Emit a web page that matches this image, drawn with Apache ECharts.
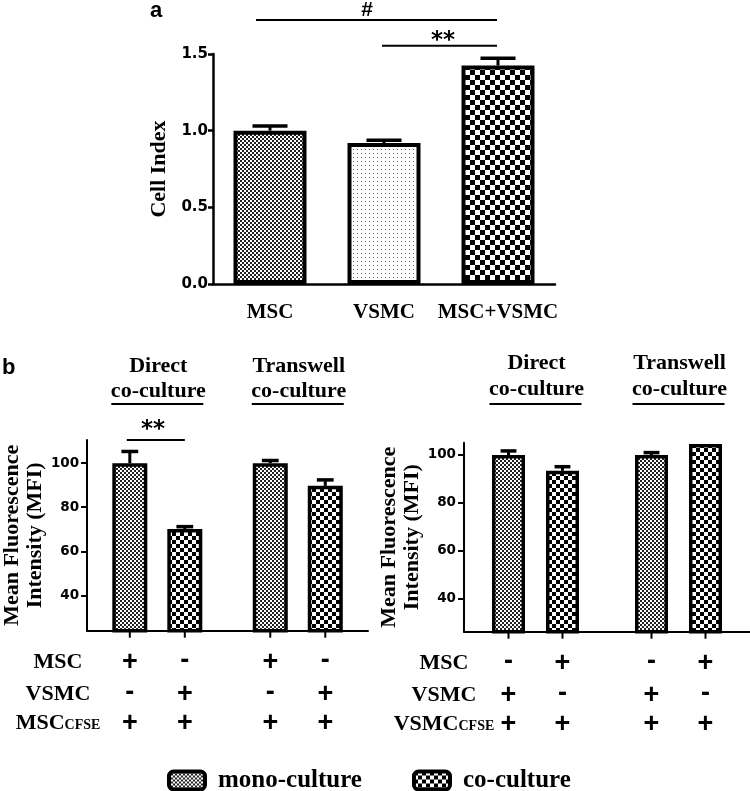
<!DOCTYPE html>
<html><head><meta charset="utf-8">
<script src="https://cdn.jsdelivr.net/npm/echarts@6/dist/echarts.min.js"></script>
<style>html,body{margin:0;padding:0;background:#fff}#c{width:750px;height:791px}</style>
</head><body><div id="c"></div>
<script>
// ---------- Panel a data ----------
const catsA = ['MSC', 'VSMC', 'MSC+VSMC'];
const valsA = [1.00, 0.92, 1.425];
const errA = [0.03, 0.018, 0.048];

// ---------- Panel b data ----------
const groupsB = ['Direct co-culture', 'Transwell co-culture'];
const headerLine1 = ['Direct', 'Transwell'];
const headerLine2 = ['co-culture', 'co-culture'];
const monoLeft = [100, 100];
const monoLeftErr = [5.3, 1.2];
const coLeft = [70.1, 89.7];
const coLeftErr = [1.1, 2.7];
const monoRight = [100, 100];
const monoRightErr = [1.7, 1.0];
const coRight = [93.4, 104.6];
const coRightErr = [1.7, 0];
const ticksB = [40, 60, 80, 100];

// sign table (bar order: Direct mono, Direct co, Transwell mono, Transwell co)
const rowLabelsLeft = [['MSC', ''], ['VSMC', ''], ['MSC', 'CFSE']];
const signsLeft = [['+', '-', '+', '-'], ['-', '+', '-', '+'], ['+', '+', '+', '+']];
const rowLabelsRight = [['MSC', ''], ['VSMC', ''], ['VSMC', 'CFSE']];
const signsRight = [['-', '+', '-', '+'], ['+', '-', '+', '-'], ['+', '+', '+', '+']];
const legendNames = ['mono-culture', 'co-culture'];

// ---------- styles ----------
const SERIF = '"Liberation Serif", "Times New Roman", serif';
const SANS = '"Liberation Sans", Arial, sans-serif';
const DJ = '"DejaVu Sans", sans-serif';
const ROW_OFF = [32, 64, 92.5];

function pat(size, draw) {
  const c = document.createElement('canvas');
  c.width = c.height = size;
  const g = c.getContext('2d');
  g.fillStyle = '#fff'; g.fillRect(0, 0, size, size);
  draw(g, size);
  return { image: c, repeat: 'repeat' };
}
function checker(cell, col) {
  return pat(cell * 2, (g) => { g.fillStyle = col; g.fillRect(0, 0, cell, cell); g.fillRect(cell, cell, cell, cell); });
}
const fineChecker = checker(2, '#222');
const coarseA = checker(5, '#000');
const coarseB = checker(4, '#000');
const dots = pat(4, (g) => { g.fillStyle = '#6a6a6a'; g.fillRect(1, 1, 1, 1); });
const patsA = [fineChecker, dots, coarseA];

const BW_A = 73, BW_L = 35, BW_R = 33, GAP_L = 20, GAP_R = 21;
const BORDER = 3.5;

function errSeries(xi, vals, errs, offset, bw, signs, slot) {
  return {
    type: 'custom', xAxisIndex: xi, yAxisIndex: xi, z: 5, silent: true, clip: false,
    data: vals.map((v, i) => [i, v, errs[i]]),
    renderItem(params, api) {
      const i = api.value(0), v = api.value(1), e = api.value(2);
      const base = api.coord([i, v]);
      const x = base[0] + offset;
      const ch = [];
      if (e > 0) {
        const top = api.coord([i, v + e])[1];
        const cap = bw * 0.48;
        ch.push({ type: 'line', shape: { x1: x, y1: base[1], x2: x, y2: top }, style: { stroke: '#000', lineWidth: 3 } });
        ch.push({ type: 'line', shape: { x1: x - cap / 2, y1: top, x2: x + cap / 2, y2: top }, style: { stroke: '#000', lineWidth: 3.5 } });
      }
      if (signs) {
        const axisY = params.coordSys.y + params.coordSys.height;
        ch.push({ type: 'line', shape: { x1: x, y1: axisY, x2: x, y2: axisY + 7 }, style: { stroke: '#000', lineWidth: 2 } });
        signs.forEach((row, r) => {
          const s = row[2 * params.dataIndex + slot];
          ch.push({ type: 'text', x: x, y: axisY + ROW_OFF[r] - (s === '-' ? 2 : 0),
            style: { text: s, fill: '#000', font: 'bold 27px ' + SANS, align: 'center', verticalAlign: 'middle' } });
        });
      }
      return { type: 'group', children: ch };
    }
  };
}

const axisCommon = (w) => ({ axisLine: { show: true, lineStyle: { color: '#000', width: w } }, splitLine: { show: false } });
const yNameStyle = { color: '#000', fontFamily: SERIF, fontWeight: 'bold', fontSize: 22, lineHeight: 23 };

const chart = echarts.init(document.getElementById('c'), null, { renderer: 'canvas' });
const option = {
  animation: false,
  backgroundColor: '#fff',
  grid: [
    { left: 213, top: 54, width: 342, height: 230 },
    { left: 76, top: 440, width: 292, height: 190.7 },
    { left: 464, top: 442.7, width: 287, height: 189 }
  ],
  legend: {
    data: legendNames, left: 167, top: 768, padding: 0, itemGap: 50,
    itemWidth: 36, itemHeight: 18, icon: 'roundRect', selectedMode: false,
    itemStyle: { borderColor: '#000', borderWidth: 4 },
    textStyle: { color: '#000', fontFamily: SERIF, fontWeight: 'bold', fontSize: 25, padding: [0, 0, 0, 8] }
  },
  xAxis: [
    Object.assign({ gridIndex: 0, type: 'category', data: catsA,
      axisTick: { alignWithLabel: true, length: 6, lineStyle: { color: '#000', width: 2.5 } },
      axisLabel: { interval: 0, margin: 18, color: '#000', fontFamily: SERIF, fontWeight: 'bold', fontSize: 21 } }, axisCommon(2.5)),
    Object.assign({ gridIndex: 1, type: 'category', data: groupsB, axisTick: { show: false }, axisLabel: { show: false } }, axisCommon(2)),
    Object.assign({ gridIndex: 2, type: 'category', data: groupsB, axisTick: { show: false }, axisLabel: { show: false } }, axisCommon(2))
  ],
  yAxis: [
    Object.assign({ gridIndex: 0, type: 'value', min: 0, max: 1.5, interval: 0.5,
      name: 'Cell Index', nameLocation: 'middle', nameGap: 42, nameTextStyle: yNameStyle,
      axisTick: { show: true, length: 5, lineStyle: { color: '#000', width: 2.5 } },
      axisLabel: { margin: 5, color: '#000', fontFamily: DJ, fontWeight: 'bold', fontSize: 15, formatter: (v) => v.toFixed(1) } }, axisCommon(2.5)),
    Object.assign({ gridIndex: 1, type: 'value', min: 24, max: 110.5,
      name: 'Mean Fluorescence\nIntensity (MFI)', nameLocation: 'middle', nameGap: 37, nameTextStyle: yNameStyle,
      axisTick: { show: true, length: 6, customValues: ticksB, lineStyle: { color: '#000', width: 2 } },
      axisLabel: { margin: 8, customValues: ticksB, color: '#000', fontFamily: DJ, fontWeight: 'bold', fontSize: 13.5 } }, axisCommon(2)),
    Object.assign({ gridIndex: 2, type: 'value', min: 26, max: 105.15,
      name: 'Mean Fluorescence\nIntensity (MFI)', nameLocation: 'middle', nameGap: 32, nameTextStyle: yNameStyle,
      axisTick: { show: true, length: 6, customValues: ticksB, lineStyle: { color: '#000', width: 2 } },
      axisLabel: { margin: 8, customValues: ticksB, color: '#000', fontFamily: DJ, fontWeight: 'bold', fontSize: 13.5 } }, axisCommon(2))
  ],
  series: [
    { type: 'bar', xAxisIndex: 0, yAxisIndex: 0, barWidth: BW_A, silent: true,
      data: valsA.map((v, i) => ({ value: v, itemStyle: { color: patsA[i] } })),
      itemStyle: { borderColor: '#000', borderWidth: 4 } },
    errSeries(0, valsA, errA, 0, BW_A, null, 0),
    { name: legendNames[0], type: 'bar', xAxisIndex: 1, yAxisIndex: 1, barWidth: BW_L, barGap: (GAP_L / BW_L * 100) + '%', silent: true,
      data: monoLeft, itemStyle: { color: fineChecker, borderColor: '#000', borderWidth: BORDER } },
    { name: legendNames[1], type: 'bar', xAxisIndex: 1, yAxisIndex: 1, barWidth: BW_L, barGap: (GAP_L / BW_L * 100) + '%', silent: true,
      data: coLeft, itemStyle: { color: coarseB, borderColor: '#000', borderWidth: BORDER } },
    errSeries(1, monoLeft, monoLeftErr, -(BW_L + GAP_L) / 2, BW_L, signsLeft, 0),
    errSeries(1, coLeft, coLeftErr, (BW_L + GAP_L) / 2, BW_L, signsLeft, 1),
    { name: legendNames[0], type: 'bar', xAxisIndex: 2, yAxisIndex: 2, barWidth: BW_R, barGap: (GAP_R / BW_R * 100) + '%', silent: true,
      data: monoRight, itemStyle: { color: fineChecker, borderColor: '#000', borderWidth: BORDER } },
    { name: legendNames[1], type: 'bar', xAxisIndex: 2, yAxisIndex: 2, barWidth: BW_R, barGap: (GAP_R / BW_R * 100) + '%', silent: true,
      data: coRight, itemStyle: { color: coarseB, borderColor: '#000', borderWidth: BORDER } },
    errSeries(2, monoRight, monoRightErr, -(BW_R + GAP_R) / 2, BW_R, signsRight, 0),
    errSeries(2, coRight, coRightErr, (BW_R + GAP_R) / 2, BW_R, signsRight, 1)
  ]
};
chart.setOption(option);

// ---------- annotations positioned from the axes ----------
const G = [];
const txt = (x, y, text, font, align) => G.push({ type: 'text', x, y, silent: true,
  style: { text, fill: '#000', font, align: align || 'center', verticalAlign: 'middle' } });
const hline = (x1, x2, y, w) => G.push({ type: 'line', silent: true, shape: { x1, y1: y, x2, y2: y }, style: { stroke: '#000', lineWidth: w || 2 } });

txt(150, 10.5, 'a', 'bold 22px ' + SANS, 'left');
txt(2, 367.5, 'b', 'bold 22px ' + SANS, 'left');

const ca = catsA.map((c, i) => chart.convertToPixel({ xAxisIndex: 0 }, i));
hline(ca[0] - 14, ca[2] - 1, 20);
txt(367, 10, '#', 'bold 21px ' + SANS);
hline(ca[1] - 2, ca[2] - 1, 45.7);
txt((ca[1] + ca[2]) / 2 + 2, 41, '**', 'bold 23px ' + DJ);

const cl = groupsB.map((c, i) => chart.convertToPixel({ xAxisIndex: 1 }, i));
const cr = groupsB.map((c, i) => chart.convertToPixel({ xAxisIndex: 2 }, i));
const offL = (BW_L + GAP_L) / 2;
hline(cl[0] - offL - 3, cl[0] + offL, 440);
txt(153, 430, '**', 'bold 23px ' + DJ);

const hdrFont = 'bold 22px ' + SERIF;
[[cl, 366, 391], [cr, 363, 389.5]].forEach(([cs, y1, y2]) => {
  cs.forEach((cx, i) => {
    txt(cx + 1, y1, headerLine1[i], hdrFont);
    txt(cx + 1, y2, headerLine2[i], hdrFont);
    hline(cx - 46, cx + 46, 404, 2);
  });
});

// row labels of the sign table
const rowFont = { b: { fontFamily: SERIF, fontWeight: 'bold', fontSize: 22, fill: '#000' }, s: { fontFamily: SERIF, fontWeight: 'bold', fontSize: 14, fill: '#000', padding: [5, 0, 0, 0] } };
function rowLabels(labels, cx, axisY) {
  labels.forEach((l, r) => {
    G.push({ type: 'text', x: cx, y: axisY + ROW_OFF[r], silent: true,
      style: { text: '{b|' + l[0] + '}' + (l[1] ? '{s|' + l[1] + '}' : ''), rich: rowFont, align: 'center', verticalAlign: 'middle' } });
  });
}
rowLabels(rowLabelsLeft, 58, 630.7);
rowLabels(rowLabelsRight, 444, 631.7);

chart.setOption({ graphic: G });
</script>
</body></html>
